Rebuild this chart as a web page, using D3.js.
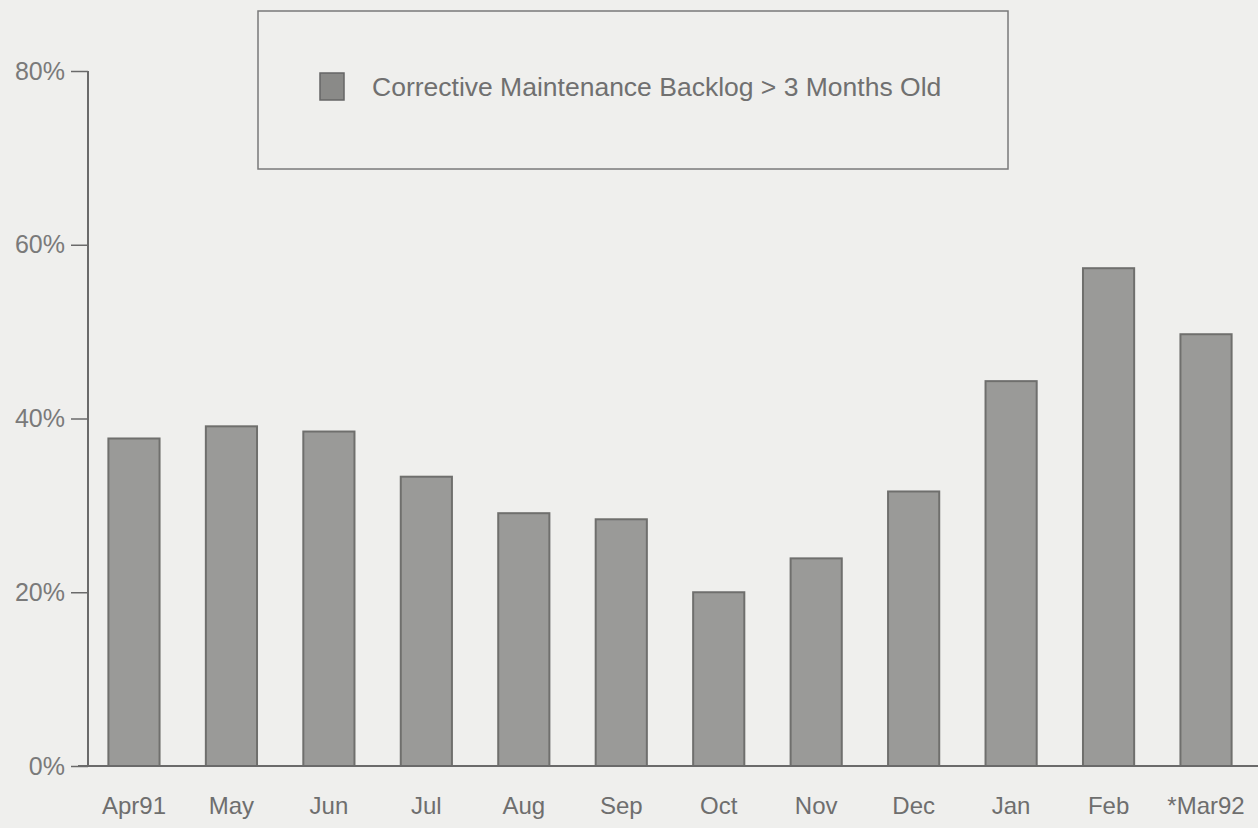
<!DOCTYPE html>
<html>
<head>
<meta charset="utf-8">
<script src="https://cdn.jsdelivr.net/npm/d3@7"></script>
<style>
  body { margin: 0; background: #efefed; }
  svg { display: block; }
  text { font-family: "Liberation Sans", Arial, sans-serif; }
</style>
</head>
<body>
<div id="chart"></div>
<script>
var months = ["Apr91","May","Jun","Jul","Aug","Sep","Oct","Nov","Dec","Jan","Feb","*Mar92"];
var backlog = [37.7, 39.1, 38.5, 33.3, 29.1, 28.4, 20.0, 23.9, 31.6, 44.3, 57.3, 49.7];
var yTicks = [0, 20, 40, 60, 80];
var tickLabels = ["0%", "20%", "40%", "60%", "80%"];
var legendLabel = "Corrective Maintenance Backlog > 3 Months Old";

var width = 1258, height = 828;

var svg = d3.select("#chart").append("svg")
    .attr("width", width)
    .attr("height", height);

var x = d3.scaleBand()
    .domain(months)
    .range([85, 1255])
    .paddingInner(0.475)
    .paddingOuter(0.24);

var y = d3.scaleLinear()
    .domain([0, 80])
    .range([766, 71]);

// bars
svg.selectAll("rect.bar")
    .data(backlog)
    .enter()
    .append("rect")
    .attr("class", "bar")
    .attr("x", function(d, i){ return x(months[i]); })
    .attr("y", function(d){ return y(d); })
    .attr("width", x.bandwidth())
    .attr("height", function(d){ return y(0) - y(d); })
    .attr("fill", "#9a9a98")
    .attr("stroke", "#6f6f6d")
    .attr("stroke-width", 2);

// y axis
var yAxis = d3.axisLeft(y)
    .tickValues(yTicks)
    .tickFormat(function(d, i){ return tickLabels[i]; })
    .tickSize(17)
    .tickPadding(6);

var gy = svg.append("g")
    .attr("transform", "translate(88,0)")
    .call(yAxis);
gy.select(".domain").attr("stroke", "#6a6a6a").attr("stroke-width", 2).attr("d", "M0," + y(80) + "V" + y(0));
gy.selectAll(".tick line").attr("stroke", "#6a6a6a").attr("stroke-width", 1.5);
gy.selectAll(".tick text")
    .attr("fill", "#7a7a7a")
    .style("font-size", "25px");

// baseline
svg.append("line")
    .attr("x1", 78).attr("x2", width)
    .attr("y1", y(0)).attr("y2", y(0))
    .attr("stroke", "#6a6a6a")
    .attr("stroke-width", 2);

// x labels
var xAxis = d3.axisBottom(x).tickSize(0).tickPadding(31);
var gx = svg.append("g")
    .attr("transform", "translate(0," + y(0) + ")")
    .call(xAxis);
gx.select(".domain").remove();
gx.selectAll(".tick text")
    .attr("fill", "#6e6e6e")
    .style("font-size", "24px");

// legend
var legend = svg.append("g");
legend.append("rect")
    .attr("x", 258).attr("y", 11)
    .attr("width", 750).attr("height", 158)
    .attr("fill", "none")
    .attr("stroke", "#7a7a7a")
    .attr("stroke-width", 1.5);
legend.append("rect")
    .attr("x", 320).attr("y", 73)
    .attr("width", 24).attr("height", 27)
    .attr("fill", "#8a8a88")
    .attr("stroke", "#666")
    .attr("stroke-width", 1.5);
legend.append("text")
    .attr("x", 372).attr("y", 96)
    .attr("fill", "#707070")
    .style("font-size", "26.5px")
    .text(legendLabel);
</script>
</body>
</html>
